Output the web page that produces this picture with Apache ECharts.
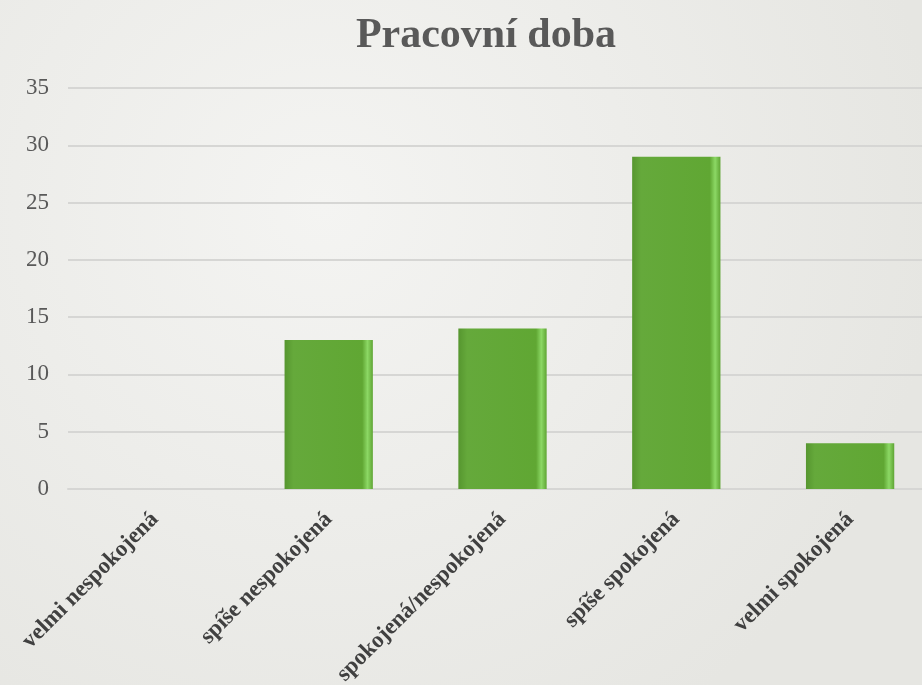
<!DOCTYPE html>
<html>
<head>
<meta charset="utf-8">
<script src="https://cdn.jsdelivr.net/npm/echarts@6/dist/echarts.min.js"></script>
<style>
html, body { margin: 0; padding: 0; }
#chart { width: 922px; height: 685px; }
</style>
</head>
<body>
<div id="chart"></div>
<script>
// data
const categories = ['velmi nespokojená', 'spíše nespokojená', 'spokojená/nespokojená', 'spíše spokojená', 'velmi spokojená']
const values = [0, 13, 14, 29, 4]
const yTicks = { min: 0, max: 35, interval: 5 }

const serif = '"Liberation Serif", "DejaVu Serif", serif'

const myChart = echarts.init(document.getElementById('chart'))
const option = {
	backgroundColor: {
		type: 'radial', x: 0.35, y: 0.3, r: 0.9,
		colorStops: [
			{ offset: 0, color: '#f4f4f2' },
			{ offset: 1, color: '#e6e6e2' }
		]
	},
	title: {
		text: 'Pracovní doba',
		left: 481,
		textAlign: 'center',
		top: 10,
		textStyle: {
			fontFamily: serif,
			fontWeight: 'bold',
			fontSize: 42,
			color: '#595959'
		}
	},
	// plot runs past the right edge, like the original
	grid: {
		left: 68,
		width: 869,
		top: 88,
		bottom: 196,
		containLabel: false,
		outerBoundsMode: 'none'
	},
	xAxis: {
		type: 'category',
		data: categories,
		axisTick: { show: false },
		axisLine: { lineStyle: { color: '#d6d6d4', width: 2 } },
		axisLabel: {
			rotate: 45,
			margin: 27,
			interval: 0,
			fontFamily: serif,
			fontWeight: 'bold',
			fontSize: 23,
			color: '#404040'
		}
	},
	yAxis: {
		type: 'value',
		min: yTicks.min,
		max: yTicks.max,
		interval: yTicks.interval,
		axisLine: { show: false },
		axisTick: { show: false },
		splitLine: { lineStyle: { color: '#d6d6d4', width: 2 } },
		axisLabel: {
			margin: 19,
			fontFamily: serif,
			fontSize: 23,
			color: '#595959'
		}
	},
	series: [
		{
			type: 'bar',
			data: values,
			barWidth: '50.8%',
			itemStyle: {
				color: {
					type: 'linear', x: 0, y: 0, x2: 1, y2: 0,
					colorStops: [
						{ offset: 0, color: '#56962f' },
						{ offset: 0.1, color: '#65a93b' },
						{ offset: 0.88, color: '#60a733' },
						{ offset: 0.94, color: '#8cd865' },
						{ offset: 1, color: '#5fa534' }
					]
				},
				shadowColor: 'rgba(0,0,0,0.25)',
				shadowBlur: 4
			}
		}
	]
}

option && myChart.setOption(option)
</script>
</body>
</html>
